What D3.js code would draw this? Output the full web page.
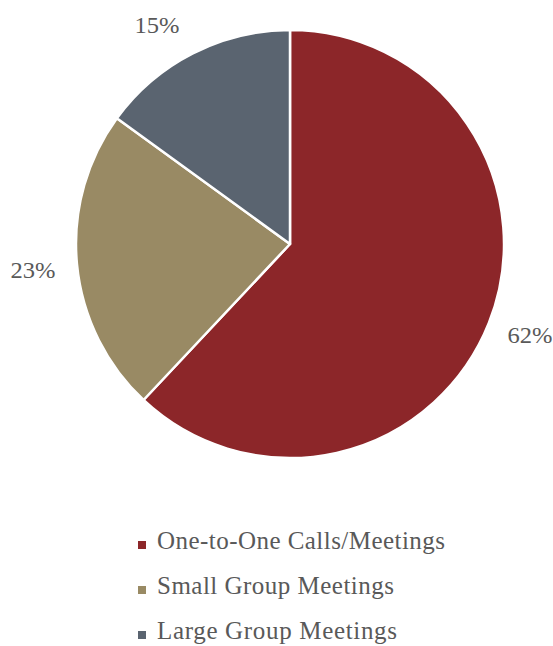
<!DOCTYPE html>
<html><head><meta charset="utf-8">
<script src="https://cdn.jsdelivr.net/npm/d3@7"></script>
<style>body{margin:0;background:#fff}svg{display:block}</style>
</head><body>
<script>
const categories = ["One-to-One Calls/Meetings", "Small Group Meetings", "Large Group Meetings"];
const values = [62, 23, 15];
const pctLabels = ["62%", "23%", "15%"];
const colors = ["#8C2629", "#998A64", "#5A6470"];

const W = 553, H = 646;
const cx = 290, cy = 244, R = 214;
const font = "'Liberation Serif', 'Times New Roman', serif";
const textColor = "#595959";

const svg = d3.select("body").append("svg").attr("width", W).attr("height", H);
const data = categories.map((c, i) => ({cat: c, v: values[i], lab: pctLabels[i], col: colors[i]}));
const pie = d3.pie().value(d => d.v).sort(null);
const arcs = pie(data);
const arc = d3.arc().innerRadius(0).outerRadius(R);

const g = svg.append("g").attr("transform", `translate(${cx},${cy})`);
g.selectAll("path").data(arcs).enter().append("path")
  .attr("d", arc).attr("fill", d => d.data.col)
  .attr("stroke", "#fff").attr("stroke-width", 2.5).attr("stroke-linejoin", "round");

// outside percentage labels
const labelPos = [[240, 99], [-257, 34], [-133, -211]];
g.selectAll("text.pct").data(arcs).enter().append("text")
  .attr("class", "pct")
  .attr("x", (d, i) => labelPos[i][0]).attr("y", (d, i) => labelPos[i][1])
  .attr("text-anchor", "middle")
  .attr("font-family", font).attr("font-size", 24).attr("fill", textColor)
  .attr("textLength", 45).attr("lengthAdjust", "spacingAndGlyphs")
  .text(d => d.data.lab);

// legend
const legendY = d3.scalePoint().domain(categories).range([549, 639]);
const leg = svg.append("g");
const rows = leg.selectAll("g").data(data).enter().append("g")
  .attr("transform", d => `translate(0,${legendY(d.cat)})`);
rows.append("rect").attr("x", 138).attr("y", -8).attr("width", 8).attr("height", 8)
  .attr("fill", d => d.col);
const legendWidths = [288, 237, 240];
rows.append("text").attr("x", 157).attr("y", 0)
  .attr("font-family", font).attr("font-size", 25).attr("fill", textColor)
  .attr("textLength", (d, i) => legendWidths[i]).attr("lengthAdjust", "spacing")
  .text(d => d.cat);
</script>
</body></html>
